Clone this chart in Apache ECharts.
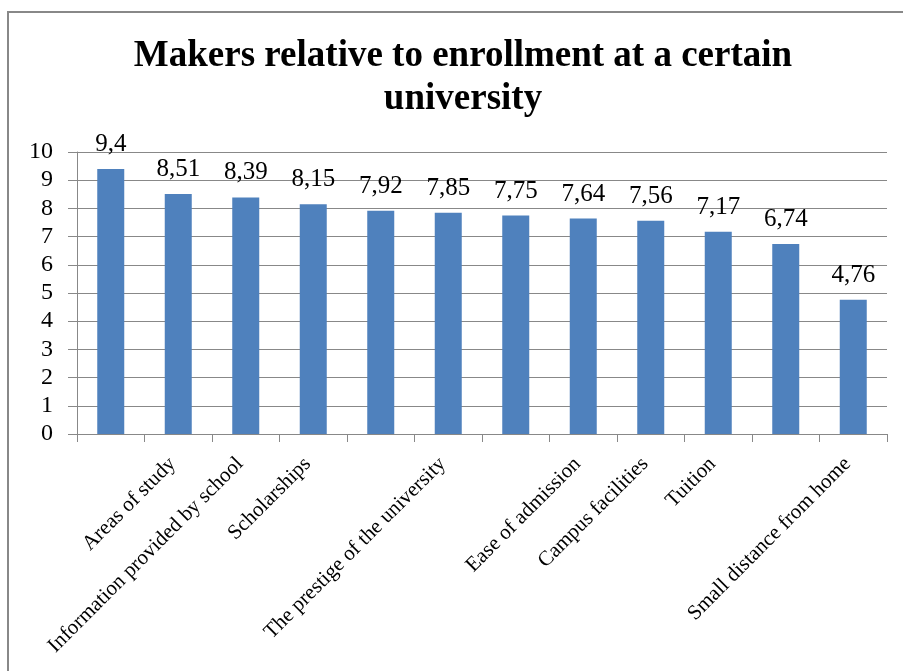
<!DOCTYPE html>
<html>
<head>
<meta charset="utf-8">
<script src="https://cdn.jsdelivr.net/npm/echarts@6/dist/echarts.min.js"></script>
<style>
  html, body { margin: 0; padding: 0; background: #ffffff; }
  #chart { width: 903px; height: 671px; }
</style>
</head>
<body>
<div id="chart"></div>
<script>
// Average rating of each factor (bars, left to right)
const values = [9.4, 8.51, 8.39, 8.15, 7.92, 7.85, 7.75, 7.64, 7.56, 7.17, 6.74, 4.76];
// Category tick labels printed under the axis (some slots are left blank)
const tickLabels = [
  '', 'Areas of study', 'Information provided by school', 'Scholarships',
  '', 'The prestige of the university', '', 'Ease of admission',
  'Campus facilities', 'Tuition', '', 'Small distance from home'
];
// Value axis ticks
const yTicks = [0, 1, 2, 3, 4, 5, 6, 7, 8, 9, 10];

const chartTitle = 'Makers relative to enrollment at a certain\nuniversity';
const serif = '"Liberation Serif", "Times New Roman", serif';
const gray = '#888888';

const chart = echarts.init(document.getElementById('chart'), null, { renderer: 'canvas' });

chart.setOption({
  animation: false,
  backgroundColor: '#ffffff',
  graphic: [
    {
      type: 'rect',
      shape: { x: 8, y: 12, width: 920, height: 700 },
      style: { fill: 'none', stroke: gray, lineWidth: 2 },
      silent: true
    },
    {
      type: 'text',
      x: 463,
      y: 35,
      style: {
        text: chartTitle,
        font: 'bold 37px ' + serif,
        fill: '#000000',
        textAlign: 'center',
        textVerticalAlign: 'top',
        lineHeight: 43
      }
    }
  ],
  grid: { left: 77, right: 16, top: 152, bottom: 237, containLabel: false },
  xAxis: {
    type: 'category',
    data: tickLabels,
    boundaryGap: true,
    axisLine: { show: true, lineStyle: { color: gray, width: 1 } },
    axisTick: { show: true, length: 8, alignWithLabel: false, interval: 0, lineStyle: { color: gray } },
    axisLabel: {
      interval: 0,
      rotate: 45,
      margin: 24,
      fontFamily: serif,
      fontSize: 21,
      color: '#000000',
      formatter: (v) => (v ? '{t|' + v + '}' : ''),
      rich: {
        t: {
          fontFamily: serif,
          fontSize: 21,
          color: '#000000',
          padding: [0, 6, 4, 0]
        }
      }
    },
    splitLine: { show: false }
  },
  yAxis: {
    type: 'value',
    min: yTicks[0],
    max: yTicks[yTicks.length - 1],
    interval: 1,
    axisLine: { show: true, lineStyle: { color: gray, width: 1 } },
    axisTick: { show: true, inside: false, length: 9, lineStyle: { color: gray } },
    axisLabel: {
      margin: 24,
      fontFamily: serif,
      fontSize: 24,
      color: '#000000'
    },
    splitLine: { show: true, lineStyle: { color: gray, width: 1 } }
  },
  series: [
    {
      type: 'bar',
      data: values,
      barWidth: '40%',
      itemStyle: { color: '#4F81BD' },
      label: {
        show: true,
        position: 'top',
        distance: 12,
        fontFamily: serif,
        fontSize: 25,
        color: '#000000',
        formatter: (p) => String(p.value).replace('.', ',')
      }
    }
  ]
});
</script>
</body>
</html>
